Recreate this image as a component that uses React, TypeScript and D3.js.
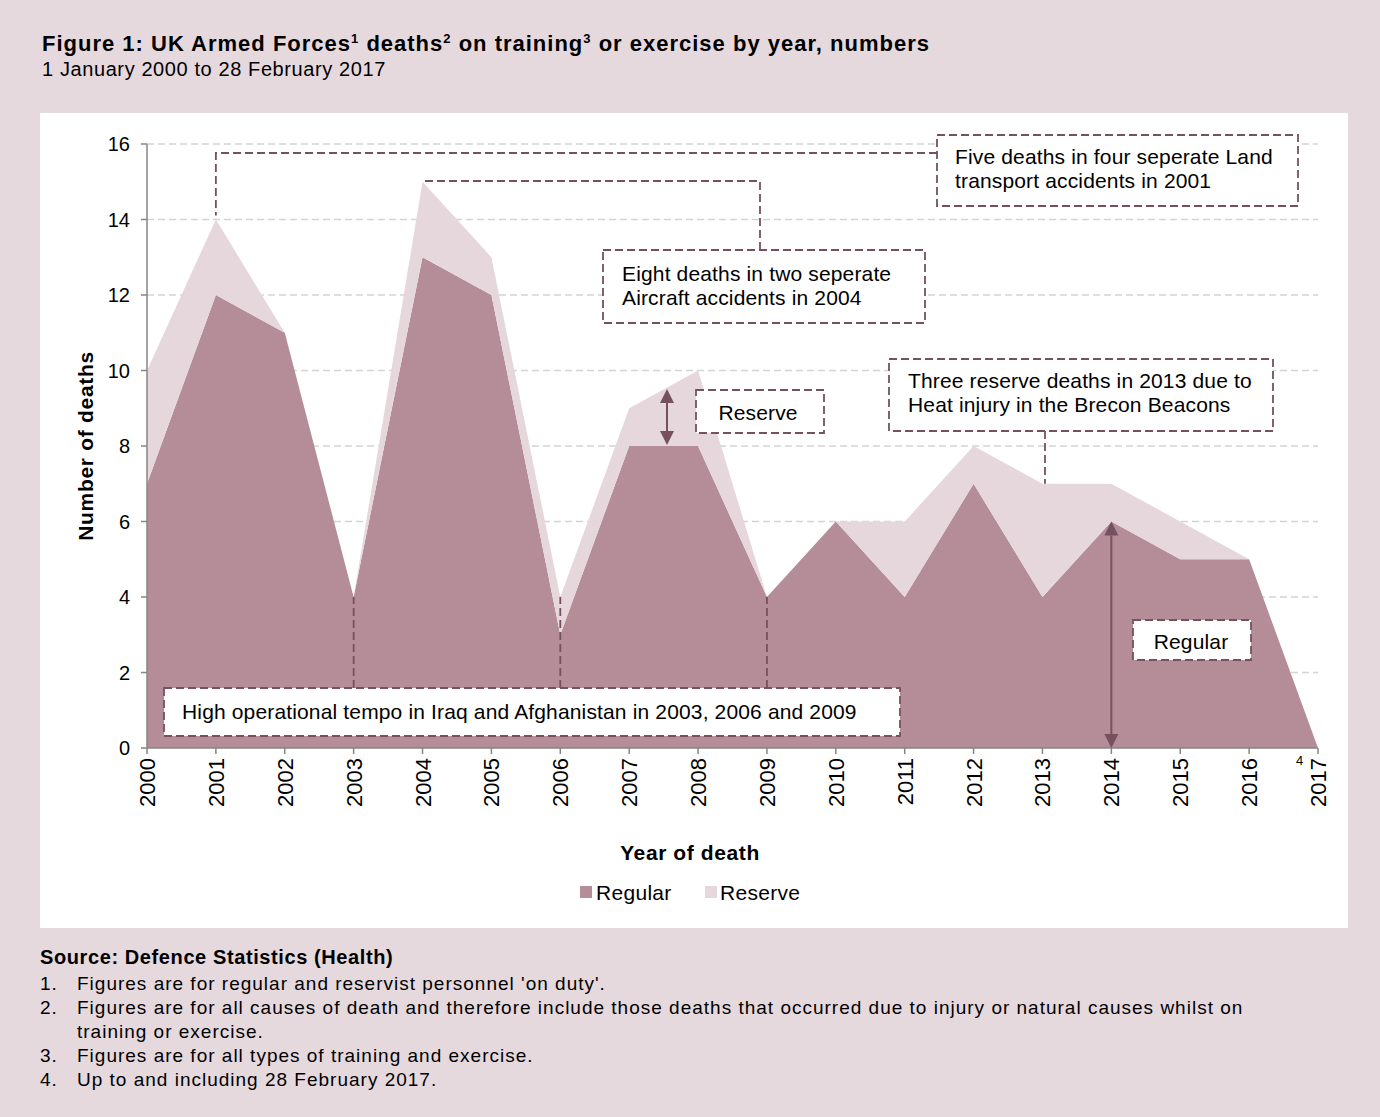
import React from 'react';
import * as d3 from 'd3';

const years = ['2000', '2001', '2002', '2003', '2004', '2005', '2006', '2007', '2008', '2009', '2010', '2011', '2012', '2013', '2014', '2015', '2016', '2017'];
const regular = [7, 12, 11, 4, 13, 12, 3, 8, 8, 4, 6, 4, 7, 4, 6, 5, 5, 0];
const reserve = [3, 2, 0, 0, 2, 1, 1, 1, 2, 0, 0, 2, 1, 3, 1, 1, 0, 0];
const yTicks = [0, 2, 4, 6, 8, 10, 12, 14, 16];
const footnotes = [
  ["1.", "Figures are for regular and reservist personnel 'on duty'."],
  ["2.", "Figures are for all causes of death and therefore include those deaths that occurred due to injury or natural causes whilst on"],
  ["", "training or exercise."],
  ["3.", "Figures are for all types of training and exercise."],
  ["4.", "Up to and including 28 February 2017."],
];

const W = 1380;
const H = 1117;
const BG = '#e6d9de';
const REG = '#b48d99';
const RES = '#e6d7dc';
const ANN = '#77505f';
const FONT = '"Liberation Sans", Arial, sans-serif';

type Row = { year: string; regular: number; reserve: number };

function DashBox({ x, y, w, h }: { x: number; y: number; w: number; h: number }) {
  return <rect x={x} y={y} width={w} height={h} fill="#fff" stroke={ANN} strokeWidth={1.8} strokeDasharray="8,4" />;
}

function DoubleArrow({ x, y1, y2 }: { x: number; y1: number; y2: number }) {
  const a = 14, hw = 7;
  return (
    <g fill={ANN} stroke={ANN}>
      <line x1={x} x2={x} y1={y1 + a} y2={y2 - a} strokeWidth={2} />
      <path d={`M${x},${y1} L${x - hw},${y1 + a} L${x + hw},${y1 + a} Z`} stroke="none" />
      <path d={`M${x},${y2} L${x - hw},${y2 - a} L${x + hw},${y2 - a} Z`} stroke="none" />
    </g>
  );
}

export default function App() {
  const data: Row[] = years.map((year, i) => ({ year, regular: regular[i], reserve: reserve[i] }));
  const x = d3.scalePoint<string>().domain(years).range([147, 1318]);
  const y = d3.scaleLinear().domain([0, 16]).range([748, 144]);
  const stack = d3.stack<Row>().keys(['regular', 'reserve'])(data);
  const area = d3.area<d3.SeriesPoint<Row>>()
    .x((d) => x(d.data.year) as number)
    .y0((d) => y(d[0]))
    .y1((d) => y(d[1]));
  const total = (yr: string) => { const i = years.indexOf(yr); return regular[i] + reserve[i]; };
  const xs = (yr: string) => x(yr) as number;

  const dash = { stroke: ANN, strokeWidth: 1.8, strokeDasharray: '8,4', fill: 'none' };
  const txt = { fontFamily: FONT, fontSize: 21, fill: '#000', style: { letterSpacing: '0.15px' } };
  const foot = { fontFamily: FONT, fontSize: 19, style: { letterSpacing: '1px' } };

  return (
    <div style={{ position: 'absolute', left: 0, top: 0 }}>
      <svg width={W} height={H} style={{ display: 'block' }}>
        <rect width={W} height={H} fill={BG} />
        <text x={42} y={51} fontFamily={FONT} fontSize={22} fontWeight="bold" style={{ letterSpacing: '1px' }}>
          Figure 1: UK Armed Forces<tspan dy={-8} fontSize={13}>1</tspan>
          <tspan dy={8}> deaths</tspan><tspan dy={-8} fontSize={13}>2</tspan>
          <tspan dy={8}> on training</tspan><tspan dy={-8} fontSize={13}>3</tspan>
          <tspan dy={8}> or exercise by year, numbers</tspan>
        </text>
        <text x={42} y={76} fontFamily={FONT} fontSize={20} style={{ letterSpacing: '0.6px' }}>1 January 2000 to 28 February 2017</text>

        <rect x={40} y={113} width={1308} height={815} fill="#fff" />

        {yTicks.filter((t) => t > 0).map((t) => (
          <line key={t} x1={147} x2={1318} y1={y(t)} y2={y(t)} stroke="#d4d4d4" strokeWidth={1.4} strokeDasharray="7,4" />
        ))}

        {stack.map((s, i) => (
          <path key={s.key} d={area(s) as string} fill={i === 0 ? REG : RES} />
        ))}

        {/* axes */}
        <line x1={147} x2={147} y1={144} y2={748} stroke="#868686" strokeWidth={1.5} />
        {yTicks.map((t) => (
          <g key={t}>
            <line x1={141} x2={147} y1={y(t)} y2={y(t)} stroke="#868686" strokeWidth={1.5} />
            <text x={130} y={y(t)} dy="0.36em" textAnchor="end" fontFamily={FONT} fontSize={20}>{t}</text>
          </g>
        ))}
        <line x1={147} x2={1318} y1={748} y2={748} stroke="#868686" strokeWidth={1.5} />
        {years.map((yr) => (
          <g key={yr}>
            <line x1={xs(yr)} x2={xs(yr)} y1={748} y2={754} stroke="#868686" strokeWidth={1.5} />
            <text transform={`translate(${xs(yr) + 8},${758}) rotate(-90)`} textAnchor="end" fontFamily={FONT} fontSize={22}>{yr}</text>
          </g>
        ))}
        <text x={xs('2017') - 22} y={765} fontFamily={FONT} fontSize={13}>4</text>

        <text transform="translate(93,446) rotate(-90)" textAnchor="middle" fontFamily={FONT} fontSize={21} fontWeight="bold" style={{ letterSpacing: '0.7px' }}>Number of deaths</text>
        <text x={690} y={860} textAnchor="middle" fontFamily={FONT} fontSize={21} fontWeight="bold" style={{ letterSpacing: '0.6px' }}>Year of death</text>

        {/* legend */}
        <rect x={580} y={886} width={12} height={12} fill={REG} />
        <text x={596} y={900} {...txt} style={{ letterSpacing: '0.3px' }}>Regular</text>
        <rect x={705} y={886} width={12} height={12} fill={RES} />
        <text x={720} y={900} {...txt} style={{ letterSpacing: '0.3px' }}>Reserve</text>

        {/* annotation: land transport */}
        <path d={`M937,153 H${xs('2001')} V${y(total('2001')) - 4}`} {...dash} />
        <DashBox x={937} y={135} w={361} h={71} />
        <text x={955} y={164} {...txt}>Five deaths in four seperate Land</text>
        <text x={955} y={188} {...txt}>transport accidents in 2001</text>

        {/* annotation: aircraft */}
        <path d={`M760,250 V181 H${xs('2004')}`} {...dash} />
        <DashBox x={603} y={250} w={322} h={73} />
        <text x={622} y={281} {...txt}>Eight deaths in two seperate</text>
        <text x={622} y={305} {...txt}>Aircraft accidents in 2004</text>

        {/* reserve */}
        <DoubleArrow x={667} y1={389} y2={445} />
        <DashBox x={696} y={390} w={128} h={43} />
        <text x={758} y={420} textAnchor="middle" {...txt}>Reserve</text>

        {/* brecon */}
        <path d={`M1045,431 V${y(total('2013'))}`} {...dash} />
        <DashBox x={889} y={359} w={384} h={72} />
        <text x={908} y={388} {...txt}>Three reserve deaths in 2013 due to</text>
        <text x={908} y={412} {...txt}>Heat injury in the Brecon Beacons</text>

        {/* regular */}
        <DoubleArrow x={xs('2014')} y1={y(6)} y2={y(0)} />
        <DashBox x={1133} y={620} w={118} h={40} />
        <text x={1191} y={649} textAnchor="middle" {...txt}>Regular</text>

        {/* operational tempo */}
        {['2003', '2006', '2009'].map((yr) => (
          <path key={yr} d={`M${xs(yr)},688 V${y(total(yr))}`} {...dash} />
        ))}
        <DashBox x={164} y={688} w={736} h={48} />
        <text x={182} y={719} {...txt}>High operational tempo in Iraq and Afghanistan in 2003, 2006 and 2009</text>

        {/* footnotes */}
        <text x={40} y={964} fontFamily={FONT} fontSize={20} fontWeight="bold" style={{ letterSpacing: '0.6px' }}>Source: Defence Statistics (Health)</text>
        {footnotes.map(([n, t], i) => (
          <g key={i}>
            <text x={40} y={990 + i * 24} {...foot}>{n}</text>
            <text x={77} y={990 + i * 24} {...foot}>{t}</text>
          </g>
        ))}
      </svg>
    </div>
  );
}
